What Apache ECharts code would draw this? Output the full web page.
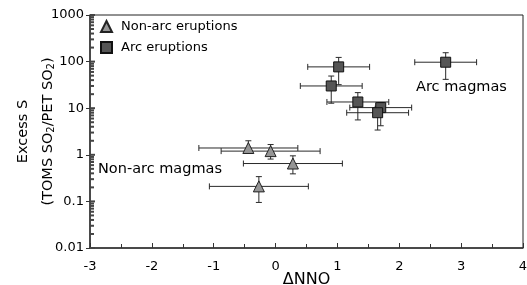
<!DOCTYPE html>
<html>
<head>
<meta charset="utf-8">
<script src="https://cdn.jsdelivr.net/npm/echarts@6/dist/echarts.min.js"></script>
<style>
html,body{margin:0;padding:0;background:#fff;}
#main{width:527px;height:285px;}
</style>
</head>
<body>
<div id="main"></div>
<script>
// non-arc eruptions (triangles)
var nonArcX=[-0.44,-0.08,0.28,-0.27];
var nonArcY=[1.4,1.2,0.65,0.21];
var nonArcXErr=[0.8,0.8,0.8,0.8];
var nonArcYLo=[1.12,0.81,0.39,0.095];
var nonArcYHi=[2.0,1.66,0.95,0.34];
// arc eruptions (squares)
var arcX=[1.02,0.9,1.33,1.70,1.65,2.75];
var arcY=[77,30,13.6,10.3,8.0,97];
var arcXErr=[0.5,0.5,0.5,0.5,0.5,0.5];
var arcYLo=[32,12.8,5.6,4.2,3.4,41.6];
var arcYHi=[123,49,21.6,13.2,11,155];
// y axis ticks drawn on the inner side (decades + 2..9 minors)
var yDecades=[0.01,0.1,1,10,100,1000];
var yMinorTicks=[];
yDecades.slice(0,5).forEach(function(d){for(var k=2;k<10;k++)yMinorTicks.push(d*k);});

var font="'DejaVu Sans',Verdana,sans-serif";

function pts(xs,ys){return xs.map(function(x,i){return [x,ys[i]];});}
function errs(xs,ys,dx,lo,hi){return xs.map(function(x,i){return [x,ys[i],dx[i],lo[i],hi[i]];});}

function errRender(params,api){
	var x=api.value(0),y=api.value(1),dx=api.value(2),lo=api.value(3),hi=api.value(4);
	var l=api.coord([x-dx,y]),r=api.coord([x+dx,y]),t=api.coord([x,hi]),b=api.coord([x,lo]);
	var st={stroke:'#2a2a2a',lineWidth:1},c=3;
	function ln(x1,y1,x2,y2){return {type:'line',shape:{x1:x1,y1:y1,x2:x2,y2:y2},style:st};}
	return {type:'group',children:[
		ln(l[0],l[1],r[0],r[1]),
		ln(l[0],l[1]-c,l[0],l[1]+c),
		ln(r[0],r[1]-c,r[0],r[1]+c),
		ln(t[0],t[1],b[0],b[1]),
		ln(t[0]-c,t[1],t[0]+c,t[1]),
		ln(b[0]-c,b[1],b[0]+c,b[1])
	]};
}
// short marks on the inner side of the log axis
function tickSeries(vals,len){
	return {
		type:'scatter',silent:true,clip:false,z:9,symbol:'rect',
		symbolSize:[len,2],symbolOffset:[len/2,0],
		itemStyle:{color:'#444',opacity:1},
		data:vals.map(function(v){return [-3,v];})
	};
}

var chart=echarts.init(document.getElementById('main'));
chart.setOption({
	animation:false,
	grid:{left:90,right:4,top:15,bottom:37,outerBoundsMode:'none',containLabel:false,
		show:true,borderColor:'#222',borderWidth:1},
	legend:{
		orient:'vertical',left:100,top:20,padding:0,itemWidth:11,itemHeight:11,itemGap:8,
		textStyle:{fontFamily:font,fontSize:13,color:'#000',padding:[0,0,0,4]},
		data:['Non-arc eruptions','Arc eruptions']
	},
	xAxis:{
		type:'value',min:-3,max:4,interval:1,
		name:'\u0394NNO',nameLocation:'middle',nameGap:24,nameMoveOverlap:false,
		nameTextStyle:{fontFamily:font,fontSize:16,color:'#000'},
		axisLine:{lineStyle:{color:'#333',width:1.5}},
		axisTick:{inside:true,length:5,lineStyle:{color:'#333'}},
		minorTick:{show:true,splitNumber:2,length:4,lineStyle:{color:'#333'}},
		axisLabel:{fontFamily:font,fontSize:13,color:'#000',margin:12},
		splitLine:{show:false}
	},
	yAxis:{
		type:'log',min:0.01,max:1000,logBase:10,
		name:'{a|Excess S}\n{a|(TOMS SO}{s|2}{a|/PET SO}{s|2}{a|)}',
		nameLocation:'middle',nameRotate:90,nameGap:34,nameMoveOverlap:false,
		nameTextStyle:{
			lineHeight:25,
			rich:{
				a:{fontFamily:font,fontSize:14.5,color:'#000',lineHeight:25,verticalAlign:'bottom'},
				s:{fontFamily:font,fontSize:10,color:'#000',lineHeight:25,verticalAlign:'bottom',padding:[5,0,0,0]}
			}
		},
		axisLine:{show:true,onZero:false,lineStyle:{color:'#333',width:1.5}},
		axisTick:{show:true,length:4,lineStyle:{color:'#333'}},
		axisLabel:{fontFamily:font,fontSize:13,color:'#000',margin:6,
			formatter:function(v){return String(+v.toPrecision(3));}},
		splitLine:{show:false}
	},
	graphic:[
		{type:'text',left:98,top:162,style:{text:'Non-arc magmas',font:'14.5px '+font,fill:'#000'}},
		{type:'text',left:416,top:80,style:{text:'Arc magmas',font:'14.5px '+font,fill:'#000'}}
	],
	series:[
		{type:'custom',silent:true,z:6,data:errs(nonArcX,nonArcY,nonArcXErr,nonArcYLo,nonArcYHi),renderItem:errRender,encode:{x:0,y:1}},
		{type:'custom',silent:true,z:6,data:errs(arcX,arcY,arcXErr,arcYLo,arcYHi),renderItem:errRender,encode:{x:0,y:1}},
		{
			name:'Non-arc eruptions',type:'scatter',z:8,symbol:'triangle',symbolSize:11,
			itemStyle:{color:'#959595',borderColor:'#222',borderWidth:1,opacity:1},
			data:pts(nonArcX,nonArcY)
		},
		{
			name:'Arc eruptions',type:'scatter',z:8,symbol:'rect',symbolSize:10,
			itemStyle:{color:'#555',borderColor:'#111',borderWidth:1,opacity:1},
			data:pts(arcX,arcY)
		},
		tickSeries(yMinorTicks,4),
		tickSeries(yDecades,5)
	]
});
</script>
</body>
</html>
